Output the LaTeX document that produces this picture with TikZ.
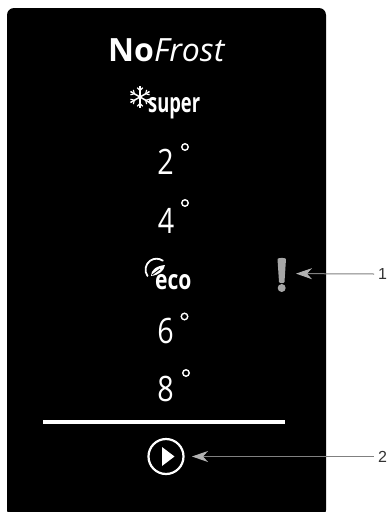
\documentclass[tikz,border=0pt]{standalone}
\usepackage{fontspec}
\setmainfont{Open Sans}
\newfontfamily\labelfont{Liberation Sans}
\usetikzlibrary{arrows.meta}
\tikzset{
  digit/.style={text=white,inner sep=0pt,font=\fontsize{35}{35}\selectfont,xscale=.82},
  deg/.style={draw=white,line width=1.4pt,circle,inner sep=0pt,minimum size=6.5pt},
  word/.style={text=white,inner sep=0pt,font=\fontsize{27}{27}\selectfont\bfseries},
  callout/.style={draw=black!50,line width=1pt,-{Stealth[length=16pt,width=11pt,inset=5pt,color=black!30]}},
  num/.style={text=black!80,inner sep=0pt,font=\labelfont\fontsize{16}{16}\selectfont}
}
\begin{document}
\begin{tikzpicture}[x=1pt,y=-1pt]
\useasboundingbox (0,0) rectangle (390,512);
\fill[white] (0,0) rectangle (390,512);
\begin{scope}
\clip (0,0) rectangle (390,512);
\fill[black,rounded corners=7pt] (7,8) rectangle (326,517);
\end{scope}
% brand
\node[anchor=base west,inner sep=0pt,text=white,font=\fontsize{32}{32}\selectfont] (brand) at (108,61) {\textbf{No}\textit{Frost}};
% snowflake
\begin{scope}[shift={(140,97)},white,line width=1.5pt]
\foreach \a in {30,90,...,330}{
  \draw (0,0) -- (\a:11);
  \draw[line width=1.1pt] (\a:6.5) -- ++(\a+45:4);
  \draw[line width=1.1pt] (\a:6.5) -- ++(\a-45:4);
}
\end{scope}
\node[word,anchor=base west,xscale=.68] (super) at (148,112) {super};
% temps
\node[digit] (t2) at (165.5,161.5) {2};
\node[deg] (d2) at (185,147) {};
\node[digit] (t4) at (166,221) {4};
\node[deg] (d4) at (185,203) {};
\node[digit] (t6) at (165.5,331) {6};
\node[deg] (d6) at (184.5,316.5) {};
\node[digit] (t8) at (165.5,388.5) {8};
\node[deg] (d8) at (186,373) {};
% eco
\node[word,anchor=base west,xscale=.78] (eco) at (155,289) {eco};
\draw[white,line width=1.8pt,line cap=round] (147.5,276) arc[start angle=145,end angle=305,radius=11];
\fill[white] (151,276) .. controls (151,270) and (156,266) .. (165,265) .. controls (164,271) and (159,275) .. (151,276) -- cycle;
\draw[black,line width=.8pt] (152,275) -- (160,269);
% warning
\fill[black!35] (277.5,259) .. controls (278,257.5) and (285.5,257.5) .. (286,259) -- (284.5,282) .. controls (284,283.5) and (279.5,283.5) .. (279,282) -- cycle;
\node[circle,fill=black!35,inner sep=0pt,minimum size=8pt] (warnDot) at (281.7,288) {};
\coordinate (warn) at (296,273.6);
% divider
\fill[white] (43,420) rectangle (285,424);
% play
\node[circle,draw=white,line width=2.2pt,minimum size=35pt,inner sep=0pt] (play) at (166,456.5) {};
\fill[white] (162,447) -- (174.5,456.5) -- (162,466) -- cycle;
\coordinate (playTip) at (192,456.5);
% callouts
\node[num,anchor=west] (n1) at (378,274) {1};
\node[num,anchor=west] (n2) at (378,456.5) {2};
\draw[callout] (n1.west)++(-4,0) coordinate (c1) -- (warn);
\draw[callout] (n2.west)++(-4.5,0) coordinate (c2) -- (playTip);
\end{tikzpicture}
\end{document}
